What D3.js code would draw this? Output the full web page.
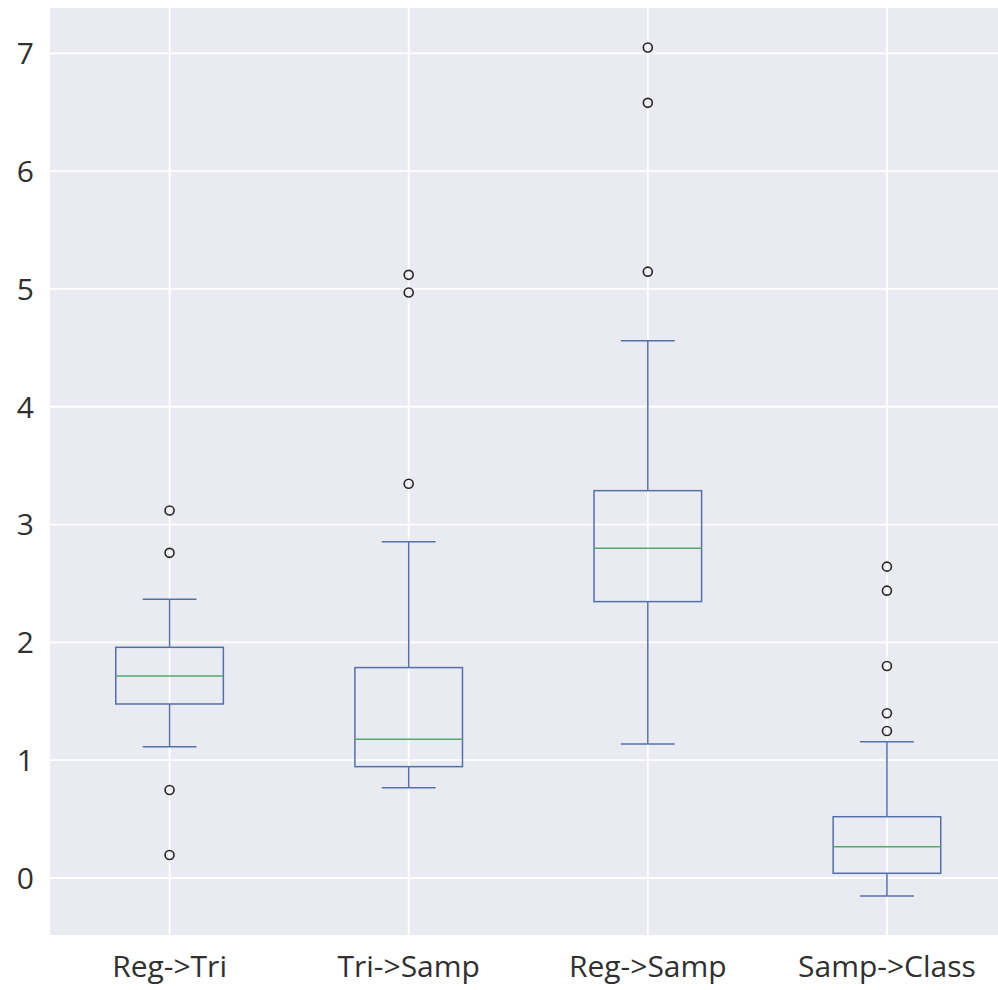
<!DOCTYPE html>
<html>
<head>
<meta charset="utf-8">
<script src="https://cdn.jsdelivr.net/npm/d3@7/dist/d3.min.js"></script>
<style>
  html, body { margin: 0; padding: 0; background: #ffffff; }
  svg { display: block; }
</style>
</head>
<body>
<svg id="chart" width="998" height="990"></svg>
<script>
const categories = ["Reg->Tri", "Tri->Samp", "Reg->Samp", "Samp->Class"];
const whiskerLow  = [1.115, 0.766, 1.137, -0.153];
const q1          = [1.477, 0.945, 2.346, 0.040];
const median      = [1.715, 1.177, 2.799, 0.266];
const q3          = [1.958, 1.786, 3.288, 0.520];
const whiskerHigh = [2.366, 2.855, 4.561, 1.157];
const outliers = [
  [3.12, 2.76, 0.747, 0.195],
  [5.12, 4.97, 3.347],
  [7.05, 6.58, 5.147],
  [2.643, 2.439, 1.80, 1.398, 1.248]
];
const yTicks = [0, 1, 2, 3, 4, 5, 6, 7];

const svg = d3.select("#chart");
const plot = { left: 50, top: 8, right: 1006.5, bottom: 935 };

const x = d3.scaleLinear().domain([0.5, 4.5]).range([plot.left, plot.right]);
const y = d3.scaleLinear().domain([-0.484, 7.385]).range([plot.bottom, plot.top]);
const step = x(2) - x(1);
const boxW = 0.45 * step;

svg.append("defs").append("clipPath").attr("id", "clip")
  .append("rect").attr("x", plot.left).attr("y", plot.top)
  .attr("width", plot.right - plot.left).attr("height", plot.bottom - plot.top);

svg.append("rect")
  .attr("x", plot.left).attr("y", plot.top)
  .attr("width", plot.right - plot.left).attr("height", plot.bottom - plot.top)
  .attr("fill", "#EAEAF2");

const g = svg.append("g").attr("clip-path", "url(#clip)");

// gridlines
g.selectAll(".hgrid").data(yTicks).enter().append("line")
  .attr("x1", plot.left).attr("x2", plot.right)
  .attr("y1", d => y(d)).attr("y2", d => y(d))
  .attr("stroke", "#ffffff").attr("stroke-width", 1.8);
g.selectAll(".vgrid").data(categories).enter().append("line")
  .attr("x1", (d, i) => x(i + 1)).attr("x2", (d, i) => x(i + 1))
  .attr("y1", plot.top).attr("y2", plot.bottom)
  .attr("stroke", "#ffffff").attr("stroke-width", 1.8);

const blue = "#5470A8";
const green = "#55A868";
const lw = 1.5;

categories.forEach((c, i) => {
  const cx = x(i + 1);
  g.append("line").attr("x1", cx).attr("x2", cx)
    .attr("y1", y(q3[i])).attr("y2", y(whiskerHigh[i]))
    .attr("stroke", blue).attr("stroke-width", lw);
  g.append("line").attr("x1", cx).attr("x2", cx)
    .attr("y1", y(q1[i])).attr("y2", y(whiskerLow[i]))
    .attr("stroke", blue).attr("stroke-width", lw);
  [whiskerHigh[i], whiskerLow[i]].forEach(v => {
    g.append("line").attr("x1", cx - boxW / 4).attr("x2", cx + boxW / 4)
      .attr("y1", y(v)).attr("y2", y(v))
      .attr("stroke", blue).attr("stroke-width", lw);
  });
  g.append("rect").attr("x", cx - boxW / 2).attr("width", boxW)
    .attr("y", y(q3[i])).attr("height", y(q1[i]) - y(q3[i]))
    .attr("fill", "none").attr("stroke", blue).attr("stroke-width", lw);
  g.append("line").attr("x1", cx - boxW / 2).attr("x2", cx + boxW / 2)
    .attr("y1", y(median[i])).attr("y2", y(median[i]))
    .attr("stroke", green).attr("stroke-width", lw);
  g.selectAll(".fl" + i).data(outliers[i]).enter().append("circle")
    .attr("cx", cx).attr("cy", d => y(d)).attr("r", 4.5)
    .attr("fill", "none").attr("stroke", "#262626").attr("stroke-width", 1.6);
});

const fontFam = "'Open Sans', 'Noto Sans', sans-serif";
svg.selectAll(".ytl").data(yTicks).enter().append("text")
  .attr("x", 34).attr("y", d => y(d))
  .attr("dy", "0.36em")
  .attr("text-anchor", "end")
  .attr("font-family", fontFam).attr("font-size", 30)
  .attr("fill", "#303030")
  .text(d => d);

svg.selectAll(".xtl").data(categories).enter().append("text")
  .attr("x", (d, i) => x(i + 1)).attr("y", 977)
  .attr("text-anchor", "middle")
  .attr("font-family", fontFam).attr("font-size", 30)
  .attr("fill", "#303030")
  .text(d => d);
</script>
</body>
</html>
